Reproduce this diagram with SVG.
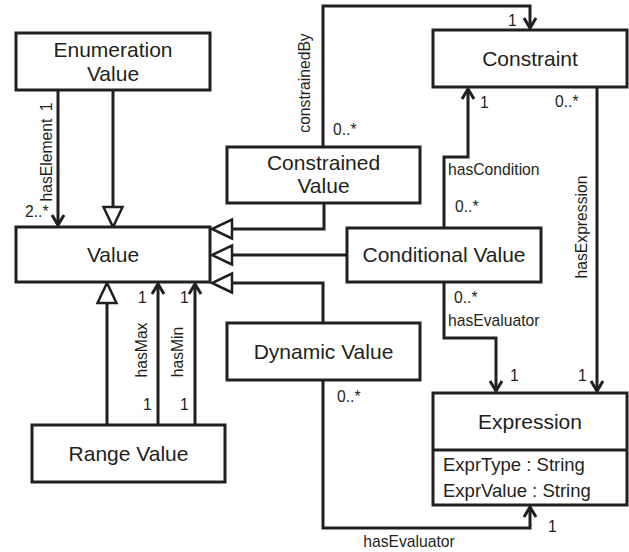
<svg xmlns="http://www.w3.org/2000/svg" width="629" height="552" viewBox="0 0 629 552">
<style>
.box{fill:#fff;stroke:#231f20;stroke-width:3}
.ln{fill:none;stroke:#231f20;stroke-width:3}
.t{font-family:"Liberation Sans",Arial,sans-serif;font-size:21px;fill:#231f20;text-anchor:middle}
.a{font-family:"Liberation Sans",Arial,sans-serif;font-size:18.5px;fill:#231f20}
.s{font-family:"Liberation Sans",Arial,sans-serif;font-size:15.7px;fill:#231f20}
.m{text-anchor:middle}
</style>
<defs>
<marker id="open" markerUnits="userSpaceOnUse" markerWidth="24" markerHeight="24" viewBox="-14 -12 24 24" refX="0" refY="0" orient="auto" overflow="visible">
<path d="M-10,-6 L0,0 L-10,6" fill="none" stroke="#231f20" stroke-width="3"/>
</marker>
<marker id="gen" markerUnits="userSpaceOnUse" markerWidth="30" markerHeight="30" viewBox="-3 -15 30 30" refX="0" refY="0" orient="auto" overflow="visible">
<polygon points="0,-9.5 20,0 0,9.5" fill="#fff" stroke="#231f20" stroke-width="2.5"/>
</marker>
</defs>

<g id="connectors">
<path class="ln" d="M58,90 V225" marker-end="url(#open)"/>
<path class="ln" d="M113,90 V207" marker-end="url(#gen)"/>
<path class="ln" d="M324,147 V229 H232" marker-end="url(#gen)"/>
<path class="ln" d="M347,255 H232" marker-end="url(#gen)"/>
<path class="ln" d="M323,323 V283 H232" marker-end="url(#gen)"/>
<path class="ln" d="M107,425 V303" marker-end="url(#gen)"/>
<path class="ln" d="M158,425 V284" marker-end="url(#open)"/>
<path class="ln" d="M195,425 V284" marker-end="url(#open)"/>
<path class="ln" d="M323,147 V6 H530 V28" marker-end="url(#open)"/>
<path class="ln" d="M444,228 V157 H468 V89" marker-end="url(#open)"/>
<path class="ln" d="M597,87 V391" marker-end="url(#open)"/>
<path class="ln" d="M444,282 V338 H496 V391" marker-end="url(#open)"/>
<path class="ln" d="M323,380 V528 H530 V507" marker-end="url(#open)"/>

<text class="s m" transform="translate(52,160) rotate(-90)">hasElement</text>
<text class="s m" transform="translate(52,107) rotate(-90)">1</text>
<text class="s" x="25" y="217">2..*</text>
<text class="s m" transform="translate(310,83) rotate(-90)">constrainedBy</text>
<text class="s" x="333" y="135">0..*</text>
<text class="s" x="508" y="26">1</text>
<text class="s" x="480" y="108">1</text>
<text class="s" x="448" y="175">hasCondition</text>
<text class="s" x="455" y="212">0..*</text>
<text class="s" x="555" y="107">0..*</text>
<text class="s m" transform="translate(587,227) rotate(-90)">hasExpression</text>
<text class="s" x="578" y="381">1</text>
<text class="s" x="454" y="303">0..*</text>
<text class="s" x="448" y="326">hasEvaluator</text>
<text class="s" x="510" y="381">1</text>
<text class="s" x="337" y="402">0..*</text>
<text class="s m" x="409" y="547">hasEvaluator</text>
<text class="s" x="548" y="532">1</text>
<text class="s" x="138" y="303">1</text>
<text class="s" x="143" y="410">1</text>
<text class="s m" transform="translate(147,350) rotate(-90)">hasMax</text>
<text class="s" x="180" y="303">1</text>
<text class="s" x="180" y="410">1</text>
<text class="s m" transform="translate(183,352) rotate(-90)">hasMin</text>
</g>

<g id="enumeration-value">
<rect class="box" x="16" y="33" width="194" height="57"/>
<text class="t" x="113" y="57">Enumeration</text>
<text class="t" x="113" y="81">Value</text>
</g>
<g id="value">
<rect class="box" x="16" y="227" width="194" height="55"/>
<text class="t" x="113" y="262">Value</text>
</g>
<g id="constrained-value">
<rect class="box" x="227" y="147" width="193" height="56"/>
<text class="t" x="323.5" y="170">Constrained</text>
<text class="t" x="323.5" y="193">Value</text>
</g>
<g id="constraint">
<rect class="box" x="433" y="30" width="194" height="57"/>
<text class="t" x="530" y="66">Constraint</text>
</g>
<g id="conditional-value">
<rect class="box" x="347" y="228" width="194" height="54"/>
<text class="t" x="444" y="262">Conditional Value</text>
</g>
<g id="dynamic-value">
<rect class="box" x="227" y="323" width="193" height="57"/>
<text class="t" x="323.5" y="359">Dynamic Value</text>
</g>
<g id="range-value">
<rect class="box" x="32" y="425" width="193" height="57"/>
<text class="t" x="128.5" y="461">Range Value</text>
</g>
<g id="expression">
<rect class="box" x="433" y="393" width="194" height="112"/>
<line class="ln" x1="433" y1="450" x2="627" y2="450"/>
<text class="t" x="530" y="429">Expression</text>
<text class="a" x="443" y="471">ExprType : String</text>
<text class="a" x="443" y="497">ExprValue : String</text>
</g>
</svg>
